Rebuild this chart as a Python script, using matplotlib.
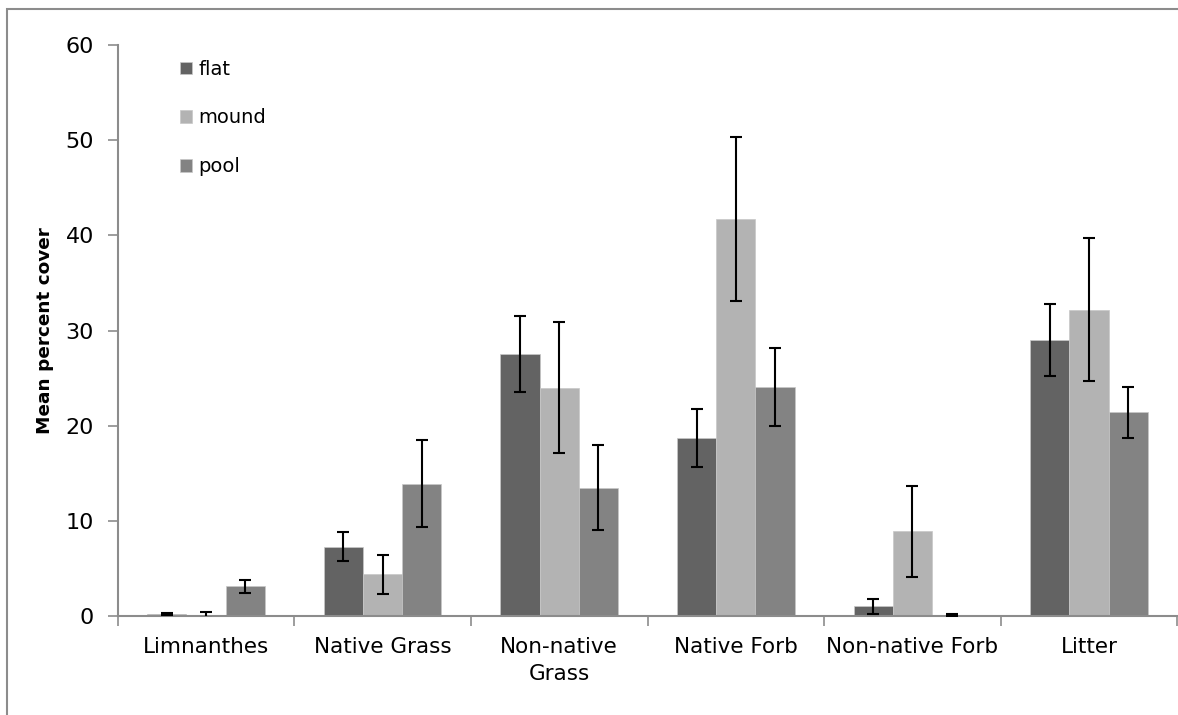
import numpy as np
import matplotlib
matplotlib.use("Agg")
from matplotlib import pyplot as plt
from matplotlib.patches import Rectangle

# data
categories = ['Limnanthes', 'Native Grass', 'Non-native\nGrass', 'Native Forb', 'Non-native Forb', 'Litter']
series = ['flat', 'mound', 'pool']
flat = [0.2, 7.3, 27.5, 18.7, 1.0, 29.0]
mound = [0.1, 4.4, 24.0, 41.7, 8.9, 32.2]
pool = [3.1, 13.9, 13.5, 24.1, 0.1, 21.4]
flat_err = [0.1, 1.5, 4.0, 3.05, 0.83, 3.8]
mound_err = [0.3, 2.05, 6.85, 8.6, 4.75, 7.5]
pool_err = [0.7, 4.55, 4.5, 4.1, 0.15, 2.65]
colors = ['#636363', '#b3b3b3', '#838383']
y_ticks = [0, 10, 20, 30, 40, 50, 60]

plt.rcParams['font.family'] = ['DejaVu Sans']

fig = plt.figure(figsize=(11.78, 7.15), dpi=100)
ax = fig.add_axes([117.7 / 1178, 1 - 616 / 715, (1177.4 - 117.7) / 1178, (616 - 45) / 715])

# outer chart frame
fig.patches.append(Rectangle((7 / 1178, -0.05), 1.1, 1 - 8.5 / 715 + 0.05, transform=fig.transFigure,
                             fill=False, edgecolor='#8c8c8c', linewidth=1.5, zorder=0))

x = np.arange(len(categories))
w = 1 / 4.5
vals = [flat, mound, pool]
errs = [flat_err, mound_err, pool_err]
for i in range(3):
    pos = x + (i - 1) * w
    ax.bar(pos, vals[i], width=w, color=colors[i], edgecolor='#c8c8c8', linewidth=0.5,
           label=series[i], zorder=2)
    ax.errorbar(pos, vals[i], yerr=errs[i], fmt='none', ecolor='black', elinewidth=1.5,
                capsize=4.5, capthick=1.5, zorder=3)

ax.set_xlim(-0.5, len(categories) - 0.5)
ax.set_ylim(0, 60)
ax.set_yticks(y_ticks)
ax.set_xticks(x)
ax.set_xticklabels(categories, fontsize=15.5, linespacing=1.45)
ax.set_xticks(np.arange(len(categories) + 1) - 0.5, minor=True)
ax.tick_params(axis='x', which='major', length=0, pad=15)
ax.tick_params(axis='x', which='minor', length=7, color='#8c8c8c', width=1.2)
ax.tick_params(axis='y', length=7, color='#8c8c8c', width=1.2, labelsize=16, pad=10)

for s in ['top', 'right']:
    ax.spines[s].set_visible(False)
for s in ['left', 'bottom']:
    ax.spines[s].set_color('#8c8c8c')
    ax.spines[s].set_linewidth(1.5)

ax.set_ylabel('Mean percent cover', fontsize=13.3, fontweight='bold', labelpad=8)

ax.legend(loc='upper left', bbox_to_anchor=(0.042, 1.005), frameon=False, fontsize=14,
          handlelength=0.62, handleheight=0.62, handletextpad=0.35, labelspacing=1.53)

fig.savefig('out.png', dpi=100)
